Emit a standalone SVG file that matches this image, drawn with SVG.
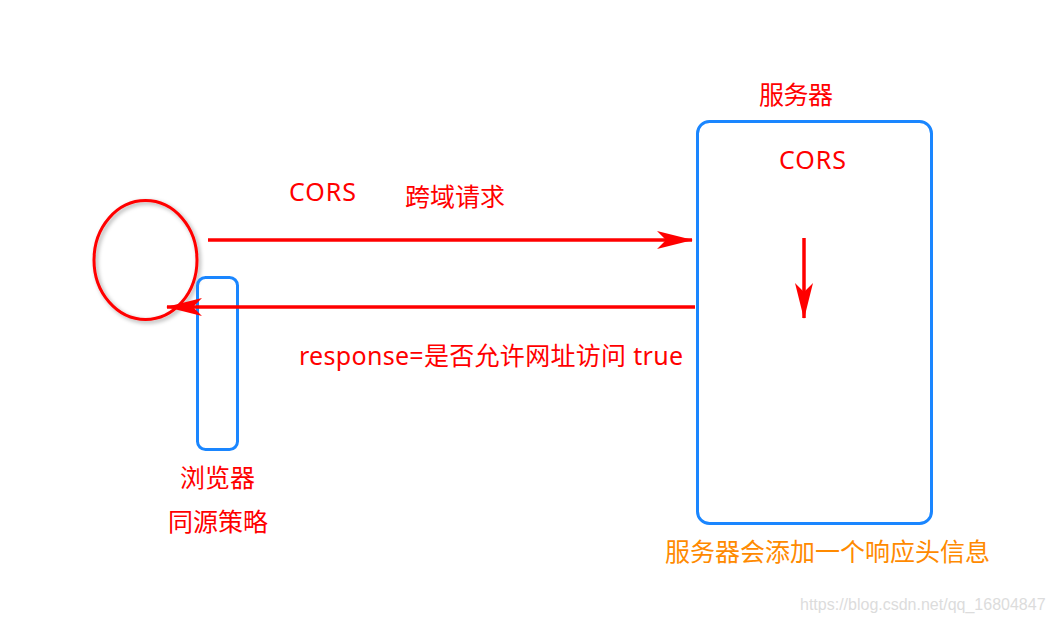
<svg xmlns="http://www.w3.org/2000/svg" width="1055" height="623" viewBox="0 0 1055 623">
<style>
.t{font-family:"Noto Sans","Noto Sans CJK SC",sans-serif;font-size:25px;fill:#ff0000}
.o{fill:#ff8a00}
.box{fill:none;stroke:#1a86ff;stroke-width:3}
.ln{stroke:#ff0000;stroke-width:3.5;fill:none}
.wm{font-family:"Liberation Sans",Arial,sans-serif;font-size:16px;fill:#dcdcdc}
</style>
<defs>
<marker id="ah" viewBox="0 0 36 20" refX="35" refY="10" markerWidth="36" markerHeight="20" markerUnits="userSpaceOnUse" orient="auto">
<path d="M0,1 L36,10 L0,19 L9,10 Z" fill="#ff0000"/>
</marker>
<filter id="sh" x="-20%" y="-20%" width="150%" height="150%">
<feDropShadow dx="2" dy="2" stdDeviation="2" flood-color="#000" flood-opacity="0.35"/>
</filter>
</defs>
<rect width="1055" height="623" fill="#fff"/>
<g id="browser">
<ellipse cx="145.5" cy="260" rx="51.5" ry="59.5" fill="none" stroke="#ff0000" stroke-width="3" filter="url(#sh)"/>
<rect class="box" x="197.5" y="277.5" width="40" height="172" rx="8"/>
<text class="t" x="180" y="487" textLength="75">浏览器</text>
<text class="t" x="168" y="531" textLength="100">同源策略</text>
</g>
<g id="server">
<rect class="box" x="697.5" y="121.5" width="234" height="402" rx="12"/>
<text class="t" x="759" y="104" textLength="74">服务器</text>
<text class="t" x="779" y="169" textLength="67">CORS</text>
<text class="t o" x="665" y="561" textLength="325">服务器会添加一个响应头信息</text>
</g>
<g id="connectors">
<line class="ln" x1="208" y1="240" x2="692" y2="240" marker-end="url(#ah)"/>
<line class="ln" x1="695" y1="307" x2="167" y2="307" marker-end="url(#ah)"/>
<line class="ln" x1="804" y1="238" x2="804" y2="318" marker-end="url(#ah)"/>
</g>
<g id="labels">
<text class="t" x="289" y="201" textLength="67">CORS</text>
<text class="t" x="405" y="206" textLength="100">跨域请求</text>
<text class="t" x="299" y="365" textLength="384">response=是否允许网址访问 true</text>
</g>
<text class="wm" x="800" y="610">https://blog.csdn.net/qq_16804847</text>
</svg>
